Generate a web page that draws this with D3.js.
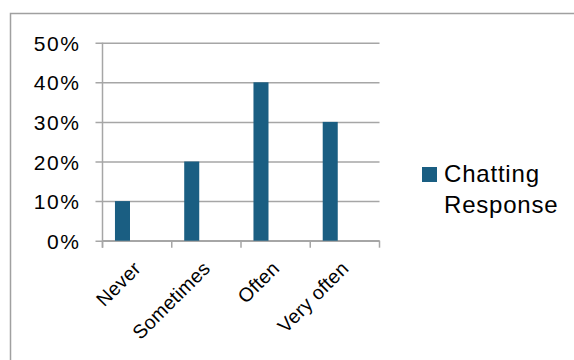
<!DOCTYPE html>
<html>
<head>
<meta charset="utf-8">
<script src="https://cdn.jsdelivr.net/npm/d3@7/dist/d3.min.js"></script>
<style>
  html, body { margin: 0; padding: 0; background: #fff; }
  svg { display: block; }
  text { font-family: "Liberation Sans", Arial, sans-serif; fill: #000; }
</style>
</head>
<body>
<svg id="chart" width="574" height="360"></svg>
<script>
// Survey answers: how often respondents use chatting
const categories = ["Never", "Sometimes", "Often", "Very often"];
const seriesName = "Chatting Response";
const values = [0.10, 0.20, 0.40, 0.30];
const yTicks = [0, 0.1, 0.2, 0.3, 0.4, 0.5];

const svg = d3.select("#chart");
const barColor = "#1a5e82";
const gridColor = "#a6a6a6";

// chart frame
svg.append("path")
  .attr("d", "M10.5,360 V13.5 H574")
  .attr("fill", "none")
  .attr("stroke", "#a0a0a0")
  .attr("stroke-width", 1.5);

const plot = { left: 102.5, right: 379.5, top: 42.7, bottom: 240.7 };

const x = d3.scaleBand()
  .domain(categories)
  .range([plot.left, plot.right])
  .paddingInner(0)
  .paddingOuter(0);

const y = d3.scaleLinear()
  .domain([0, 0.5])
  .range([plot.bottom, plot.top]);

// horizontal gridlines with left tick marks
const yAxis = d3.axisLeft(y)
  .tickValues(yTicks)
  .tickFormat(d3.format(".0%"))
  .tickSize(plot.right - plot.left + 7);

const gy = svg.append("g")
  .attr("transform", `translate(${plot.right},0)`)
  .call(yAxis);
gy.select(".domain").remove();
gy.selectAll(".tick line").attr("stroke", gridColor).attr("stroke-width", 1.5);
gy.selectAll(".tick text")
  .attr("x", -(plot.right - plot.left) - 22)
  .attr("dy", "0.36em")
  .style("font-size", "21px")
  .style("letter-spacing", "1.6px")
  .attr("fill", "#000");

// vertical axis line
svg.append("line")
  .attr("x1", plot.left).attr("x2", plot.left)
  .attr("y1", plot.top).attr("y2", plot.bottom + 7)
  .attr("stroke", gridColor).attr("stroke-width", 1.5);

// category axis with boundary ticks
const gx = svg.append("g").attr("transform", `translate(0,${plot.bottom})`);
gx.append("line")
  .attr("x1", plot.left).attr("x2", plot.right)
  .attr("stroke", gridColor).attr("stroke-width", 1.5);
const edges = categories.map(c => x(c)).concat([x(categories[categories.length - 1]) + x.bandwidth()]);
gx.selectAll("line.edge")
  .data(edges)
  .join("line")
  .attr("class", "edge")
  .attr("x1", d => d).attr("x2", d => d)
  .attr("y1", 0).attr("y2", 7)
  .attr("stroke", gridColor).attr("stroke-width", 1.5);

gx.selectAll("text.cat")
  .data(categories)
  .join("text")
  .attr("class", "cat")
  .attr("text-anchor", "end")
  .style("font-size", "19.5px")
  .style("letter-spacing", "0.3px")
  .attr("transform", c => `translate(${x(c) + x.bandwidth() / 2 + 5},${29}) rotate(-45)`)
  .text(c => c);

// bars sit in the left part of each category slot
const barOffset = 0.18, barWidth = 0.217;
svg.append("g")
  .selectAll("rect")
  .data(values)
  .join("rect")
  .attr("x", (d, i) => x(categories[i]) + x.bandwidth() * barOffset)
  .attr("width", x.bandwidth() * barWidth)
  .attr("y", d => y(d))
  .attr("height", d => y(0) - y(d))
  .attr("fill", barColor);

// legend
const lg = svg.append("g").attr("transform", "translate(422,167)");
lg.append("rect").attr("width", 15).attr("height", 15).attr("fill", barColor);
lg.append("text")
  .attr("x", 22).attr("y", 15)
  .style("font-size", "24px")
  .style("letter-spacing", "0.8px")
  .selectAll("tspan")
  .data(["Chatting", "Response"])
  .join("tspan")
  .attr("x", 22)
  .attr("dy", (d, i) => i === 0 ? 0 : 31)
  .text(d => d);
</script>
</body>
</html>
